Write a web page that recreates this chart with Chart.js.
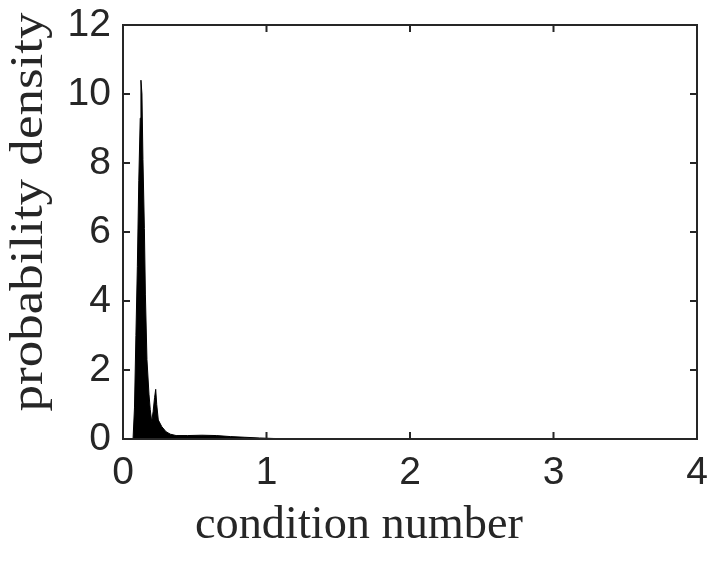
<!DOCTYPE html>
<html>
<head>
<meta charset="utf-8">
<script src="https://cdn.jsdelivr.net/npm/chart.js@4.4.1/dist/chart.umd.min.js"></script>
<style>
  html, body { margin: 0; padding: 0; background: #fff; }
  #wrap { width: 724px; height: 572px; }
</style>
</head>
<body>
<div id="wrap"><canvas id="densityChart" width="724" height="572"></canvas></div>
<script>
// condition number -> probability density
const conditionNumbers = [
  0, 0.07, 0.08, 0.09, 0.10, 0.11, 0.12, 0.125, 0.132, 0.139, 0.149, 0.156,
  0.167, 0.181, 0.19, 0.20, 0.21, 0.22, 0.228, 0.235, 0.246, 0.27, 0.30, 0.33,
  0.37, 0.45, 0.55, 0.65, 0.75, 0.85, 0.95, 1.05, 1.2, 1.5, 4
];
const densities = [
  0, 0, 0.9, 3.0, 5.0, 7.5, 9.3, 10.4, 10.0, 8.1, 6.1, 4.2,
  2.3, 1.3, 0.85, 0.5, 0.8, 1.2, 1.44, 1.0, 0.55, 0.36, 0.21, 0.14,
  0.10, 0.10, 0.11, 0.10, 0.07, 0.05, 0.03, 0.015, 0.005, 0, 0
];
const xTicks = [0, 1, 2, 3, 4];
const yTicks = [0, 2, 4, 6, 8, 10, 12];
const xTitle = "condition number";
const yTitle = "probability density";

const axisColor = "#262626";
const tickFont = { family: "'Liberation Sans Narrow', 'Liberation Sans', Arial, sans-serif", size: 39 };
const titleFont = "47px 'Liberation Serif', 'Times New Roman', serif";

// 横に引き伸ばして TeX っぽい幅に合わせる
function drawStretched(ctx, text, cx, cy, width, angle) {
  ctx.save();
  ctx.font = titleFont;
  const sx = width / ctx.measureText(text).width;
  ctx.translate(cx, cy);
  ctx.rotate(angle);
  ctx.scale(sx, 1);
  ctx.textAlign = "center";
  ctx.textBaseline = "alphabetic";
  ctx.fillStyle = axisColor;
  ctx.fillText(text, 0, 0);
  ctx.restore();
}

// MATLAB風の枠と内向きの目盛り + 軸ラベル
const boxPlugin = {
  id: "boxPlugin",
  afterDraw(chart) {
    const { ctx, chartArea: a, scales } = chart;
    const len = 7;
    ctx.save();
    ctx.strokeStyle = axisColor;
    ctx.lineWidth = 2;
    ctx.beginPath();
    xTicks.forEach((v) => {
      const x = scales.x.getPixelForValue(v);
      ctx.moveTo(x, a.bottom); ctx.lineTo(x, a.bottom - len);
      ctx.moveTo(x, a.top); ctx.lineTo(x, a.top + len);
    });
    yTicks.forEach((v) => {
      const y = scales.y.getPixelForValue(v);
      ctx.moveTo(a.left, y); ctx.lineTo(a.left + len, y);
      ctx.moveTo(a.right, y); ctx.lineTo(a.right - len, y);
    });
    ctx.stroke();
    ctx.strokeRect(a.left, a.top, a.right - a.left, a.bottom - a.top);
    ctx.restore();

    drawStretched(ctx, xTitle, 359, 538, 328, 0);
    drawStretched(ctx, yTitle, 42, 212, 399, -Math.PI / 2);
  },
};

const points = conditionNumbers.map((x, i) => ({ x, y: densities[i] }));

new Chart(document.getElementById("densityChart"), {
  type: "line",
  data: {
    datasets: [
      {
        data: points,
        borderColor: "#000",
        backgroundColor: "#000",
        borderWidth: 1,
        pointRadius: 0,
        fill: "origin",
        tension: 0,
      },
    ],
  },
  options: {
    responsive: false,
    animation: false,
    layout: { padding: { top: 25, right: 27, left: 0, bottom: 0 } },
    plugins: { legend: { display: false }, tooltip: { enabled: false } },
    scales: {
      x: {
        type: "linear",
        min: 0,
        max: 4,
        afterFit: (s) => {
          s.height = 133;
          s.paddingLeft = 0;
          s.paddingRight = 0;
        },
        afterBuildTicks: (s) => { s.ticks = xTicks.map((v) => ({ value: v })); },
        grid: { display: false },
        border: { display: false },
        ticks: { padding: 3, color: axisColor, font: tickFont, maxRotation: 0 },
      },
      y: {
        min: 0,
        max: 12,
        afterFit: (s) => {
          s.width = 123;
          s.paddingTop = 0;
          s.paddingBottom = 0;
        },
        afterBuildTicks: (s) => { s.ticks = yTicks.map((v) => ({ value: v })); },
        grid: { display: false },
        border: { display: false },
        ticks: { padding: 4, color: axisColor, font: tickFont },
      },
    },
  },
  plugins: [boxPlugin],
});
</script>
</body>
</html>
